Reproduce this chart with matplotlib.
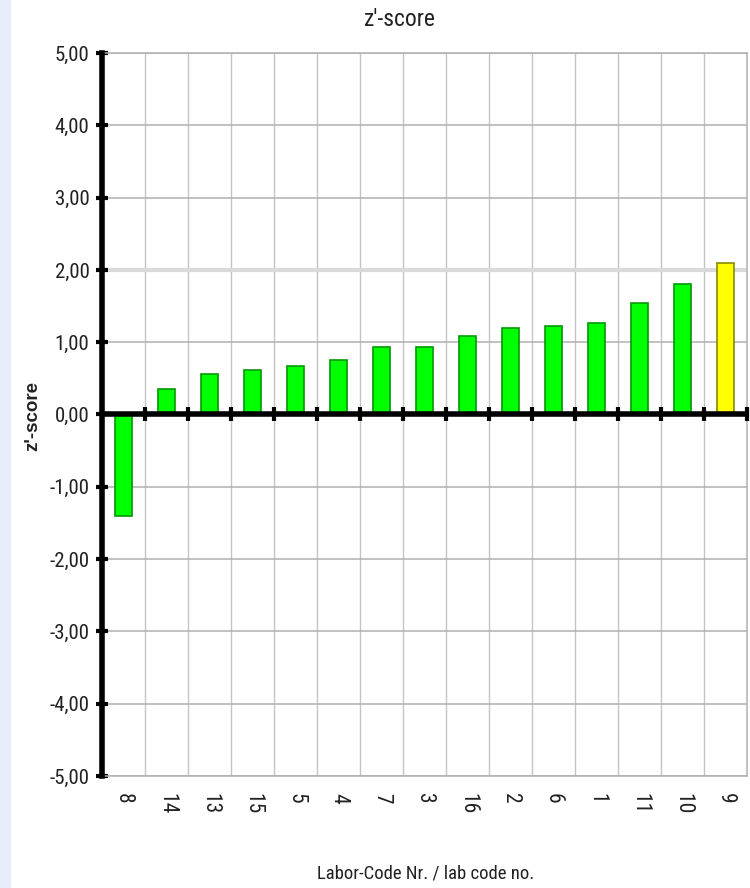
import numpy as np
import matplotlib.pyplot as plt
from matplotlib import font_manager

lab_codes = ["8", "14", "13", "15", "5", "4", "7", "3", "16", "2", "6", "1", "11", "10", "9"]
z_scores = [-1.40, 0.35, 0.56, 0.62, 0.67, 0.76, 0.93, 0.93, 1.08, 1.19, 1.22, 1.27, 1.54, 1.81, 2.09]
bar_colors = ["#00ff00"] * 14 + ["#ffff00"]
edge_colors = ["#009a00"] * 14 + ["#8a8a00"]
y_ticks = [-5, -4, -3, -2, -1, 0, 1, 2, 3, 4, 5]

# pick a narrow face if one is installed
names = {f.name for f in font_manager.fontManager.ttflist}
narrow = [n for n in ["Liberation Sans Narrow", "Roboto Condensed", "Open Sans Condensed",
                      "DejaVu Sans Condensed", "Liberation Sans"] if n in names] + ["DejaVu Sans"]
is_narrow = narrow[0] != "Liberation Sans"

fig = plt.figure(figsize=(7.5, 8.88), dpi=100)
fig.patches.append(plt.Rectangle((0, 0), 10 / 750, 1, transform=fig.transFigure,
                                 color="#e6eefb", zorder=0))
ax = fig.add_axes([102 / 750, 1 - 776 / 888, 645 / 750, 723 / 888])

x = np.arange(len(lab_codes))
ax.set_xlim(-0.5, len(lab_codes) - 0.5)
ax.set_ylim(-5, 5)

# grid
for b in x[:-1] + 0.5:
    ax.axvline(b, color="#c4c4c4", lw=1, zorder=1)
for t in y_ticks:
    if t == 2:
        ax.axhline(t, color="#dadada", lw=3, zorder=1)
    elif t != 0:
        ax.axhline(t, color="#b0b0b0", lw=1.1, zorder=1)

ax.bar(x, z_scores, width=0.41, color=bar_colors, edgecolor=edge_colors, lw=1.2, zorder=3)

# zero line with category ticks
ax.axhline(0, color="black", lw=4, zorder=4)
ax.plot(x + 0.5, np.zeros(len(x)), ls="none", marker="|", ms=10, mew=3,
        color="black", zorder=5, clip_on=False)

for s in ["top", "right", "bottom"]:
    ax.spines[s].set_color("#b0b0b0")
    ax.spines[s].set_linewidth(1.1)
ax.spines["left"].set_color("black")
ax.spines["left"].set_linewidth(4)
ax.spines["left"].set_zorder(6)

fs_tick = 15 if is_narrow else 13
ax.set_yticks(y_ticks)
ax.set_yticklabels([f"{t:.2f}".replace(".", ",") for t in y_ticks],
                   family=narrow, fontsize=fs_tick, color="#222222")
ax.tick_params(axis="y", direction="inout", length=8, width=3, pad=5)

ax.set_xticks(x)
ax.set_xticklabels(lab_codes, rotation=270, family=narrow, fontsize=15.5,
                   color="#222222", va="top", ha="center")
ax.tick_params(axis="x", length=0, pad=12)

fig.text(400 / 750, 1 - 19 / 888, "z'-score", family=narrow,
         fontsize=17 if is_narrow else 15, ha="center", va="center", color="#222222")
fig.text(426 / 750, 1 - 873 / 888, "Labor-Code Nr. / lab code no.", family=narrow,
         fontsize=13.5 if is_narrow else 12, ha="center", va="center", color="#222222")
fig.text(33 / 750, 1 - 416 / 888, "z'-score", family=["Liberation Sans", "DejaVu Sans"],
         fontsize=13.5, fontweight="bold", rotation=90, ha="center", va="center",
         color="#222222")

fig.savefig("out.png", dpi=100)
